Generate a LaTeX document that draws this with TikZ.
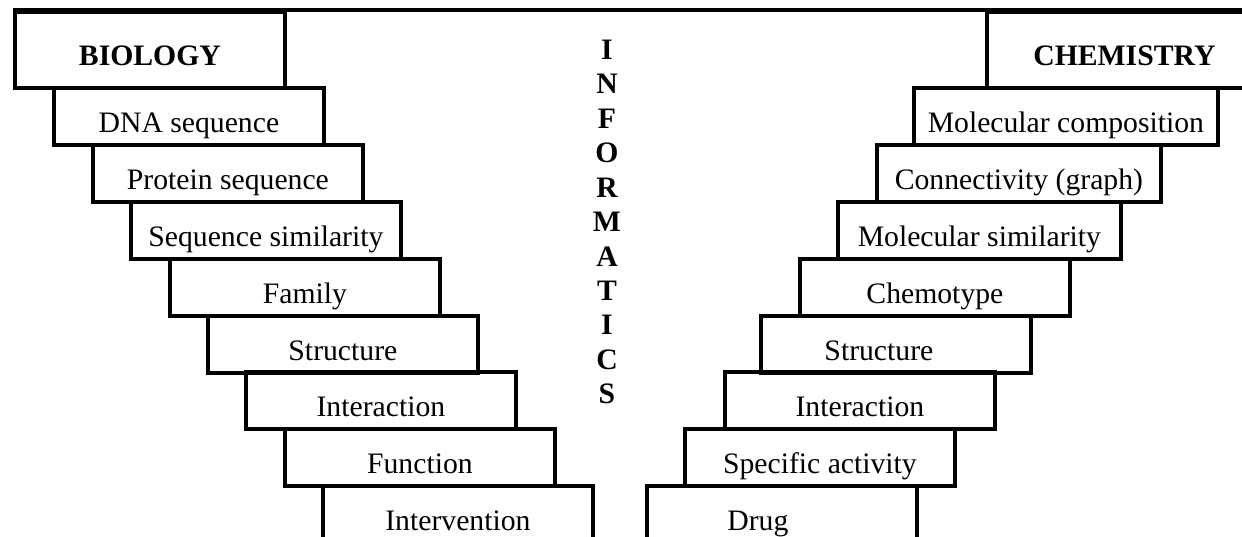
\documentclass[tikz,border=0pt]{standalone}
\usepackage{fontspec}
\setmainfont{Liberation Serif}
\tikzset{
		stepbox/.style={draw, line width=2.2pt, anchor=north west, inner sep=0pt,
			minimum width=5.4cm, minimum height=1.138cm,
			text height=0.64cm, text depth=0pt,
			font=\fontsize{16.9}{20}\selectfont},
		headbox/.style={stepbox, minimum height=1.52cm,
			font=\fontsize{16.9}{20}\selectfont\bfseries}
	}
\begin{document}
\begin{tikzpicture}[x=0.02cm, y=-0.02cm, line width=2.2pt]
          \useasboundingbox (0,0) rectangle (1242,537);
          \clip (0,0) rectangle (1242,537);

          % the two headings and the line joining them
          \node[headbox] (bio) at (13,10) {BIOLOGY};
          \node[headbox, minimum width=5.5cm] (chem) at (985,10) {CHEMISTRY};
          \draw (bio.north west) -- (chem.north east);

          % biology steps, going down to the right
          \node[stepbox] (dna) at (52,86) {DNA sequence};
          \node[stepbox] (protein) at (91,143) {Protein sequence};
          \node[stepbox] (seqsim) at (129,200) {Sequence similarity};
          \node[stepbox] (family) at (168,257) {Family};
          \node[stepbox] (bstruct) at (206,314) {Structure};
          \node[stepbox] (binter) at (244,370) {Interaction};
          \node[stepbox] (function) at (283,427) {Function};
          \node[stepbox] (interv) at (321,484) {Intervention};

          % chemistry steps, going down to the left
          \node[stepbox, minimum width=6.08cm] (molcomp) at (912,86) {Molecular composition};
          \node[stepbox, minimum width=5.68cm] (connect) at (875,143) {Connectivity (graph)};
          \node[stepbox, minimum width=5.66cm] (molsim) at (836,200) {Molecular similarity};
          \node[stepbox] (chemotype) at (798,257) {Chemotype};
          \node[stepbox] (cstruct) at (759,314) {Structure\kern0.68cm};
          \node[stepbox] (cinter) at (723,370) {Interaction};
          \node[stepbox] (activity) at (683,427) {Specific activity};
          \node[stepbox] (drug) at (645,484) {Drug\kern0.96cm};

          % the word down the middle
          \node[font=\fontsize{16.9}{19.6}\selectfont\bfseries, align=center] (info) at (607,222)
               {I\\N\\F\\O\\R\\M\\A\\T\\I\\C\\S};

\end{tikzpicture}
\end{document}
